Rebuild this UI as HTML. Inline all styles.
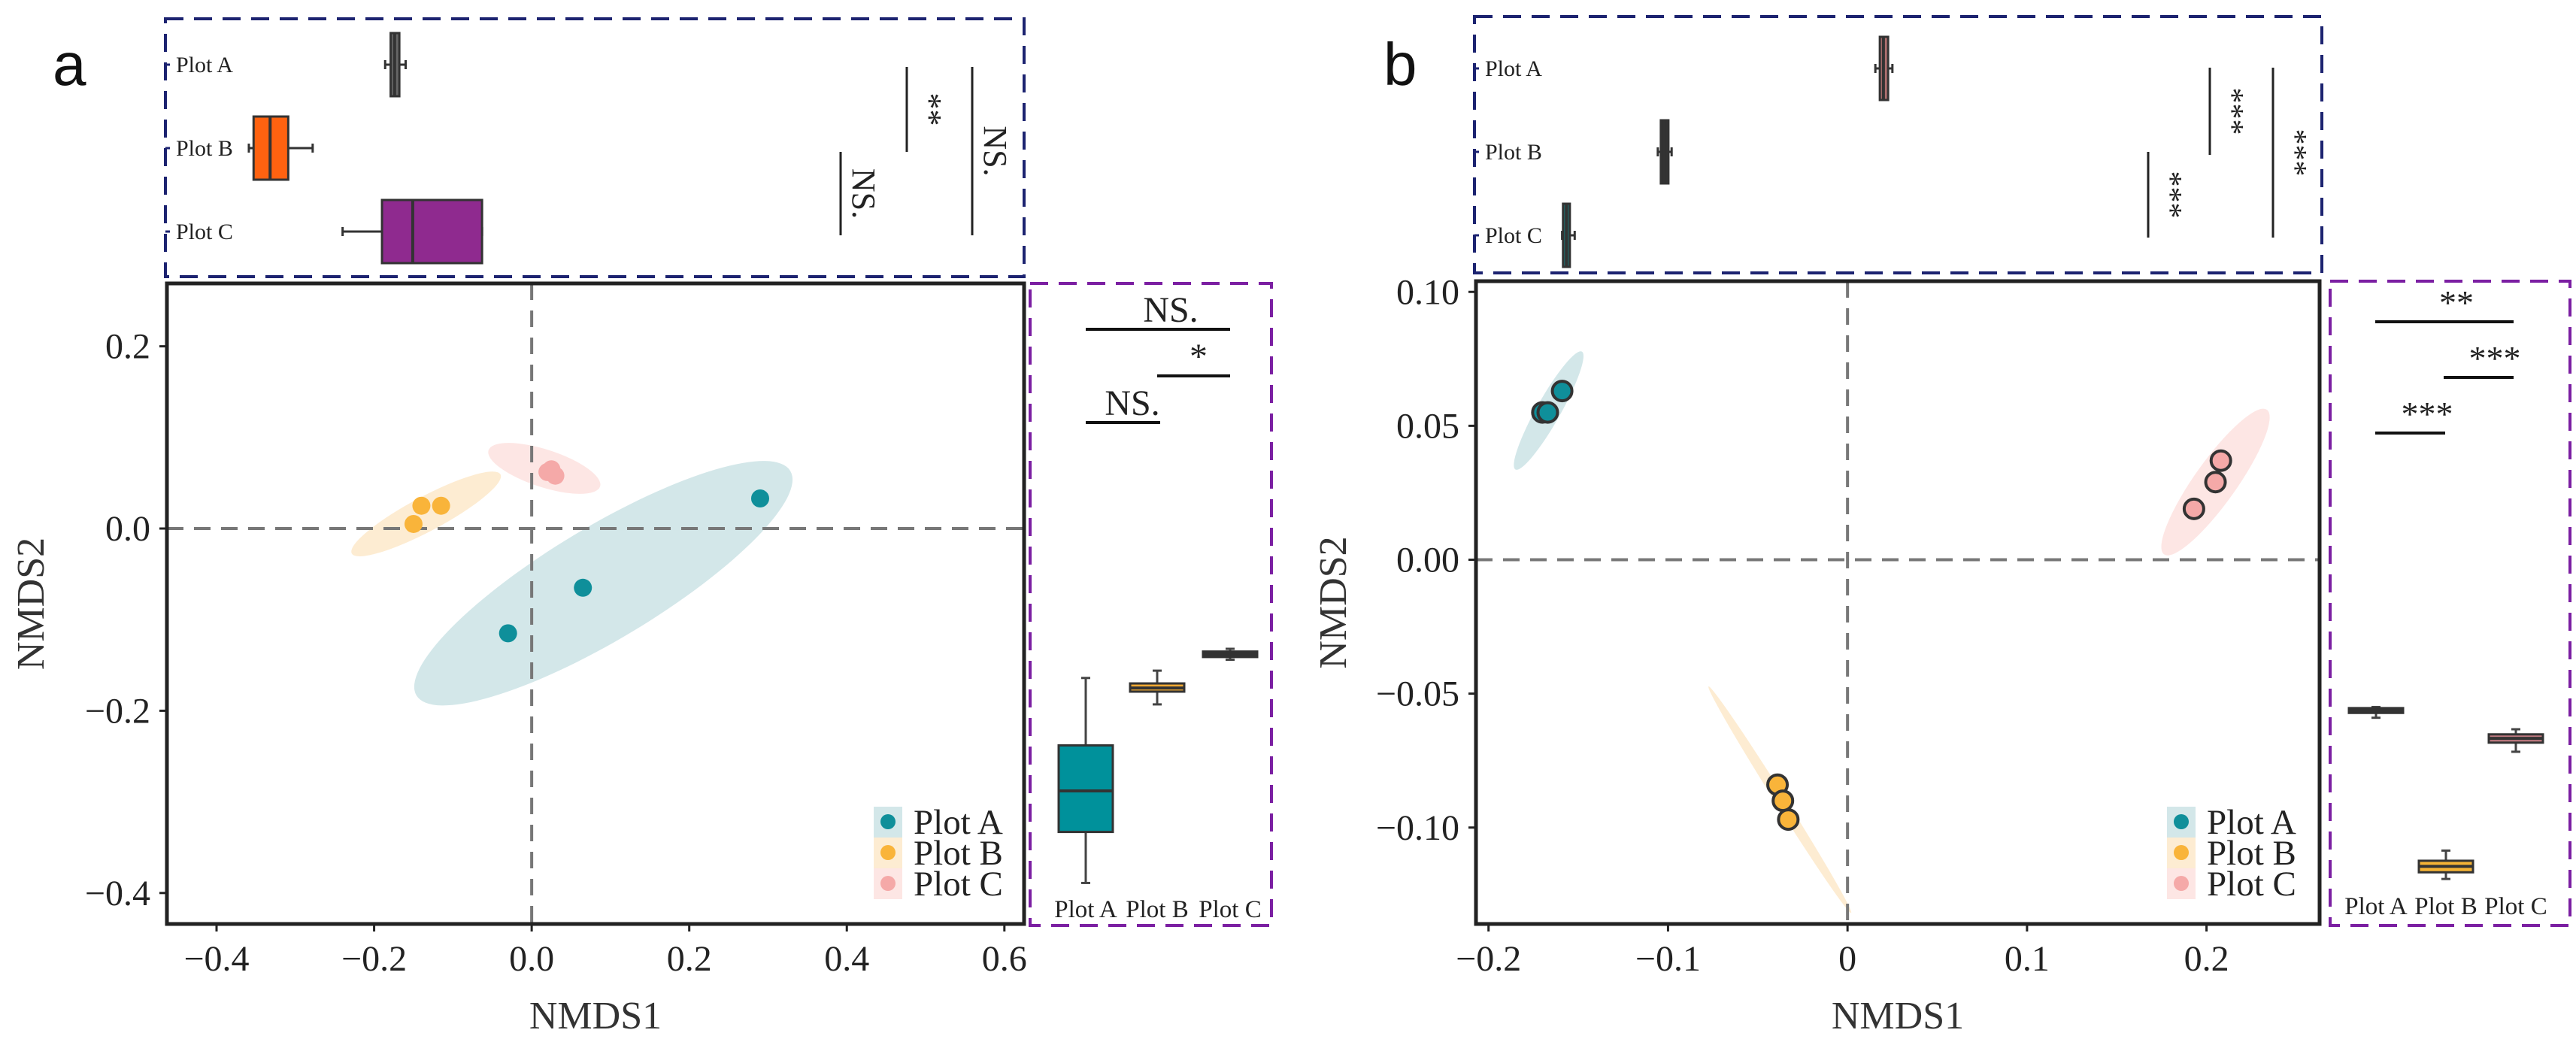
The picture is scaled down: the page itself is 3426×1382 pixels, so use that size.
<!DOCTYPE html>
<html><head><meta charset="utf-8">
<style>
html,body{margin:0;padding:0;background:#fff;overflow:hidden;}
svg{display:block;font-family:"Liberation Serif",serif;}
</style></head>
<body>
<svg id="fig" width="3426" height="1382" viewBox="0 0 3426 1382" xmlns="http://www.w3.org/2000/svg"></svg>
<script>
// ---------- data ----------
const groups = ["Plot A","Plot B","Plot C"];
const aPointsX = [[-0.03,0.065,0.29],[-0.15,-0.14,-0.115],[0.02,0.03,0.025]];
const aPointsY = [[-0.115,-0.065,0.033],[0.005,0.025,0.025],[0.062,0.058,0.065]];
const bPointsX = [[-0.170,-0.167,-0.159],[-0.039,-0.036,-0.033],[0.193,0.205,0.208]];
const bPointsY = [[0.055,0.055,0.063],[-0.084,-0.090,-0.097],[0.019,0.029,0.037]];
const aEllCX = [0.091,-0.134,0.016];
const aEllCY = [-0.060,0.016,0.066];
const bEllCX = [-0.1665,-0.0377,0.205];
const bEllCY = [0.0557,-0.0896,0.029];
const aXTicks = [-0.4,-0.2,0.0,0.2,0.4,0.6];
const aXTickLabels = ["\u22120.4","\u22120.2","0.0","0.2","0.4","0.6"];
const aYTicks = [0.2,0.0,-0.2,-0.4];
const aYTickLabels = ["0.2","0.0","\u22120.2","\u22120.4"];
const bXTicks = [-0.2,-0.1,0,0.1,0.2];
const bXTickLabels = ["\u22120.2","\u22120.1","0","0.1","0.2"];
const bYTicks = [0.10,0.05,0.00,-0.05,-0.10];
const bYTickLabels = ["0.10","0.05","0.00","\u22120.05","\u22120.10"];
// box stats: [whiskerLo, q1, median, q3, whiskerHi]
const aTopBoxes = [[-0.186,-0.179,-0.174,-0.168,-0.160],[-0.359,-0.353,-0.332,-0.309,-0.278],[-0.240,-0.190,-0.151,-0.063,-0.063]];
const aSideBoxes = [[-0.389,-0.333,-0.288,-0.238,-0.164],[-0.193,-0.179,-0.175,-0.170,-0.156],[-0.144,-0.141,-0.138,-0.135,-0.132]];
const bTopBoxes = [[0.0155,0.018,0.020,0.0226,0.025],[-0.1057,-0.104,-0.102,-0.0998,-0.098],[-0.159,-0.1585,-0.1566,-0.1547,-0.152]];
const bSideBoxes = [[-0.0590,-0.0572,-0.0563,-0.0554,-0.0550],[-0.1192,-0.1167,-0.1145,-0.1124,-0.1086],[-0.0717,-0.0683,-0.0667,-0.0652,-0.0633]];
const aTopSig = ["NS.","**","NS."];
const aSideSig = ["NS.","*","NS."];
const bTopSig = ["***","***","***"];
const bSideSig = ["**","***","***"];

// ---------- helpers ----------
const NS="http://www.w3.org/2000/svg";
const svg=document.getElementById('fig');
function mk(tag,attrs,parent,text){
  const e=document.createElementNS(NS,tag);
  for(const k in attrs)e.setAttribute(k,attrs[k]);
  if(text!==undefined)e.textContent=text;
  (parent||svg).appendChild(e);return e;
}
function lin(d0,d1,p0,p1){return v=>p0+(v-d0)/(d1-d0)*(p1-p0);}

function panel(P){
  const g=mk('g',{});
  
  
  const sx=lin(P.xd[0],P.xd[1],P.fr[0],P.fr[2]);
  const sy=lin(P.yd[0],P.yd[1],P.fr[3],P.fr[1]);
  const lt=mk('text',{x:P.letter[0],y:P.letter[1],'font-family':'Liberation Sans, sans-serif','font-size':80,fill:'#111'},g,P.id);
  
  
  P.ellCX.forEach((cx,i)=>{
    const e=mk('ellipse',{cx:sx(cx),cy:sy(P.ellCY[i]),rx:P.ellR[i][0],ry:P.ellR[i][1],fill:P.ellCol[i],transform:`rotate(${P.ellR[i][2]} ${sx(cx)} ${sy(P.ellCY[i])})`},g);
    
    
  });
  const zx=mk('line',{x1:sx(0),x2:sx(0),y1:P.fr[1],y2:P.fr[3],stroke:'#777','stroke-width':4,'stroke-dasharray':'22 14'},g);
  
  
  const zy=mk('line',{x1:P.fr[0],x2:P.fr[2],y1:sy(0),y2:sy(0),stroke:'#777','stroke-width':4,'stroke-dasharray':'22 14'},g);
  
  
  P.px.forEach((arr,i)=>arr.forEach((x,j)=>{
    const c=mk('circle',{cx:sx(x),cy:sy(P.py[i][j]),r:P.outline?13:12,fill:P.ptCol[i],stroke:P.outline?'#333':'none','stroke-width':4},g);
    
    
  }));
  const fr=mk('rect',{x:P.fr[0],y:P.fr[1],width:P.fr[2]-P.fr[0],height:P.fr[3]-P.fr[1],fill:'none',stroke:'#222','stroke-width':5},g);
  
  
  P.xt.forEach((v,i)=>{
    const t=mk('line',{x1:sx(v),x2:sx(v),y1:P.fr[3],y2:P.fr[3]+10,stroke:'#222','stroke-width':3},g);
    
    
    const l=mk('text',{x:sx(v),y:P.fr[3]+62,'font-size':48,'text-anchor':'middle',fill:'#222'},g,P.xtl[i]);
    
    
  });
  P.yt.forEach((v,i)=>{
    const t=mk('line',{x1:P.fr[0]-10,x2:P.fr[0],y1:sy(v),y2:sy(v),stroke:'#222','stroke-width':3},g);
    
    
    const l=mk('text',{x:P.fr[0]-22,y:sy(v)+16,'font-size':48,'text-anchor':'end',fill:'#222'},g,P.ytl[i]);
    
    
  });
  const xtl=mk('text',{x:(P.fr[0]+P.fr[2])/2,y:1368,'font-size':52,'text-anchor':'middle',fill:'#333'},g,'NMDS1');
  
  
  const ytl=mk('text',{x:0,y:0,'font-size':52,'text-anchor':'middle',fill:'#333',transform:`translate(${P.ytx},${(P.fr[1]+P.fr[3])/2}) rotate(-90)`},g,'NMDS2');
  
  
  groups.forEach((name,i)=>{
    const yy=1093+i*41;
    const bg=mk('rect',{x:P.leg-19,y:yy-20,width:38,height:41,fill:P.ellCol[i]},g);
    
    
    const c=mk('circle',{cx:P.leg,cy:yy,r:10,fill:P.ptCol[i]},g);
    
    
    const t=mk('text',{x:P.leg+34,y:yy+16,'font-size':47,fill:'#222'},g,name);
    
    
  });
  const tb=mk('rect',{x:P.tb[0],y:P.tb[1],width:P.tb[2]-P.tb[0],height:P.tb[3]-P.tb[1],fill:'none',stroke:'#1c2370','stroke-width':4,'stroke-dasharray':'24 14'},g);
  
  
  groups.forEach((name,i)=>{
    const ry=P.rowY[i];
    const tk=mk('line',{x1:P.tb[0],x2:P.tb[0]+6,y1:ry,y2:ry,stroke:'#1c2370','stroke-width':3},g);
    
    
    const t=mk('text',{x:P.tb[0]+14,y:ry+10,'font-size':30,fill:'#222'},g,name);
    
    
    const s=P.topB[i], h=42;
    const w=mk('line',{x1:sx(s[0]),x2:sx(s[4]),y1:ry,y2:ry,stroke:'#333','stroke-width':3},g);
    
    
    mk('line',{x1:sx(s[0]),x2:sx(s[0]),y1:ry-6,y2:ry+6,stroke:'#333','stroke-width':3},g);
    mk('line',{x1:sx(s[4]),x2:sx(s[4]),y1:ry-6,y2:ry+6,stroke:'#333','stroke-width':3},g);
    const b=mk('rect',{x:sx(s[1]),y:ry-h,width:Math.max(sx(s[3])-sx(s[1]),6),height:2*h,fill:P.topCol[i],stroke:'#333','stroke-width':3},g);
    
    
    const m=mk('line',{x1:sx(s[2]),x2:sx(s[2]),y1:ry-h,y2:ry+h,stroke:'#333','stroke-width':4},g);
    
    
  });
  P.topSigLines.forEach((L,i)=>{
    const l=mk('line',{x1:L[0],x2:L[0],y1:L[1],y2:L[2],stroke:'#222','stroke-width':3},g);
    
    
    const t=mk('text',{x:0,y:0,'font-size':P.sigFont,'text-anchor':'middle',fill:'#222',transform:`translate(${L[0]+16},${(L[1]+L[2])/2}) rotate(90)`},g,P.topSig[i]);
    
    
  });
  const sb=mk('rect',{x:P.sb[0],y:P.sb[1],width:P.sb[2]-P.sb[0],height:P.sb[3]-P.sb[1],fill:'none',stroke:'#7b1fa2','stroke-width':4,'stroke-dasharray':'24 14'},g);
  
  
  groups.forEach((name,i)=>{
    const cx=P.sideX[i], s=P.sideB[i], hw=36;
    const w=mk('line',{x1:cx,x2:cx,y1:sy(s[0]),y2:sy(s[4]),stroke:'#444','stroke-width':3},g);
    
    
    mk('line',{x1:cx-6,x2:cx+6,y1:sy(s[0]),y2:sy(s[0]),stroke:'#444','stroke-width':3},g);
    mk('line',{x1:cx-6,x2:cx+6,y1:sy(s[4]),y2:sy(s[4]),stroke:'#444','stroke-width':3},g);
    const b=mk('rect',{x:cx-hw,y:sy(s[3]),width:2*hw,height:Math.max(sy(s[1])-sy(s[3]),5),fill:P.sideCol[i],stroke:'#333','stroke-width':3},g);
    
    
    const m=mk('line',{x1:cx-hw,x2:cx+hw,y1:sy(s[2]),y2:sy(s[2]),stroke:'#333','stroke-width':4},g);
    
    
    const t=mk('text',{x:cx,y:P.sideLabY,'font-size':33,'text-anchor':'middle',fill:'#222'},g,name);
    
    
  });
  P.sideSigLines.forEach((L,i)=>{
    const l=mk('line',{x1:L[0],x2:L[1],y1:L[2],y2:L[2],stroke:'#111','stroke-width':4},g);
    
    
    const t=mk('text',{x:L[3],y:L[2]-10,'font-size':P.sigFont+4,'text-anchor':'middle',fill:'#222'},g,P.sideSig[i]);
    
    
  });
}

panel({id:'a',letter:[70,113],xd:[-0.463,0.625],yd:[-0.434,0.269],fr:[222,377,1362,1229],
  px:aPointsX,py:aPointsY,outline:false,ellCX:aEllCX,ellCY:aEllCY,
  ellR:[[290,75,-31],[112,23,-28],[78,25,18]],
  ellCol:['#d3e7e9','#fdecd2','#fde6e4'],ptCol:['#0f8f9a','#f9b43a','#f5a9a8'],
  xt:aXTicks,xtl:aXTickLabels,yt:aYTicks,ytl:aYTickLabels,ytx:58,leg:1181,
  tb:[220,25,1362,368],rowY:[86,197,308],topB:aTopBoxes,topCol:['#666','#ff6210','#8f2a8f'],
  topSig:aTopSig,topSigLines:[[1118,202,313],[1206,89,202],[1293,89,313]],sigFont:44,
  sb:[1370,377,1691,1231],sideX:[1444,1539,1636],sideB:aSideBoxes,sideCol:['#00919b','#f2aa32','#333'],
  sideLabY:1220,sideSig:aSideSig,sideSigLines:[[1444,1636,438,1557],[1539,1636,500,1594],[1444,1543,562,1506]]});

panel({id:'b',letter:[1840,113],xd:[-0.207,0.263],yd:[-0.136,0.104],fr:[1963,374,3085,1229],
  px:bPointsX,py:bPointsY,outline:true,ellCX:bEllCX,ellCY:bEllCY,
  ellR:[[90,16,-60.6],[178,7,57.8],[118,28,-54.6]],
  ellCol:['#d3e7e9','#fdecd2','#fde6e4'],ptCol:['#0f8f9a','#f9b43a','#f5a9a8'],
  xt:bXTicks,xtl:bXTickLabels,yt:bYTicks,ytl:bYTickLabels,ytx:1790,leg:2901,
  tb:[1961,22,3088,363],rowY:[91,202,313],topB:bTopBoxes,topCol:['#b07070','#333','#1f6e6e'],
  topSig:bTopSig,topSigLines:[[2857,202,316],[2939,90,206],[3023,90,316]],sigFont:42,
  sb:[3099,374,3418,1231],sideX:[3160,3253,3346],sideB:bSideBoxes,sideCol:['#444','#f5b335','#c07a80'],
  sideLabY:1216,sideSig:bSideSig,sideSigLines:[[3159,3343,428,3267],[3250,3343,502,3318],[3159,3252,576,3228]]});
</script>
</body></html>
